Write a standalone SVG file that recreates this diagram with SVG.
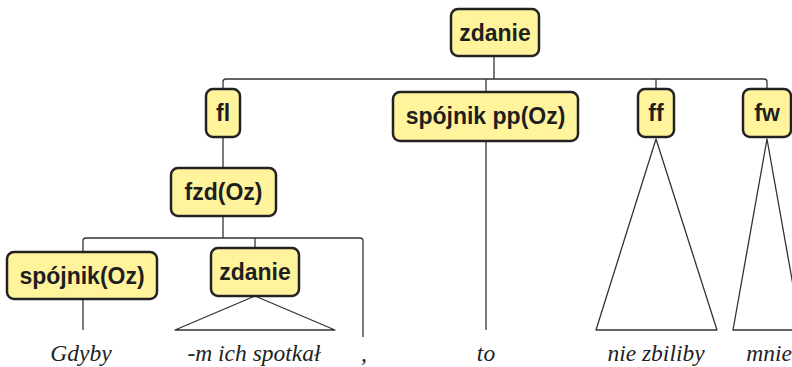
<svg xmlns="http://www.w3.org/2000/svg" width="792" height="367" viewBox="0 0 792 367">
<style>
.box{fill:#fff49c;stroke:#222;stroke-width:2.5}
.lbl{font-family:"Liberation Sans",Arial,sans-serif;font-weight:bold;font-size:23px;fill:#1e1e1e;text-anchor:middle}
.word{font-family:"Liberation Serif","Times New Roman",serif;font-style:italic;font-size:23.5px;fill:#222;text-anchor:middle}
.ln{fill:none;stroke:#333;stroke-width:1.3;stroke-linejoin:round}
</style>
<rect width="792" height="367" fill="#fff"/>
<g id="connectors">
<path class="ln" d="M494,56 V79"/>
<path class="ln" d="M223,89 V82 Q223,79 226,79 H764 Q767,79 767,82 V89"/>
<path class="ln" d="M486,79 V92"/>
<path class="ln" d="M656,79 V89"/>
<path class="ln" d="M223,137 V168"/>
<path class="ln" d="M223,216 V238"/>
<path class="ln" d="M83,252 V241 Q83,238 86,238 H360 Q363,238 363,241 V337"/>
<path class="ln" d="M255,238 V248"/>
<path class="ln" d="M83,299 V330"/>
<path class="ln" d="M486,141 V330"/>
<path class="ln" d="M255,296 L175,330 H335 Z"/>
<path class="ln" d="M656,139 L596,330 H717 Z"/>
<path class="ln" d="M767,139 L733,330 H801 Z"/>
</g>
<g id="n-zdanie-top"><rect class="box" x="451" y="9" width="88" height="47" rx="7"/><text class="lbl" x="495" y="41">zdanie</text></g>
<g id="n-fl"><rect class="box" x="206" y="89" width="34" height="48" rx="7"/><text class="lbl" x="223" y="121">fl</text></g>
<g id="n-spojnik-pp"><rect class="box" x="393" y="92" width="185" height="49" rx="7"/><text class="lbl" x="485.5" y="124">spójnik pp(Oz)</text></g>
<g id="n-ff"><rect class="box" x="638" y="89" width="36" height="48" rx="7"/><text class="lbl" x="656" y="121">ff</text></g>
<g id="n-fw"><rect class="box" x="743" y="89" width="48" height="48" rx="7"/><text class="lbl" x="767" y="121">fw</text></g>
<g id="n-fzd"><rect class="box" x="171" y="168" width="105" height="48" rx="7"/><text class="lbl" x="223.5" y="200">fzd(Oz)</text></g>
<g id="n-spojnik"><rect class="box" x="7" y="252" width="150" height="47" rx="7"/><text class="lbl" x="82" y="284">spójnik(Oz)</text></g>
<g id="n-zdanie-low"><rect class="box" x="211" y="248" width="88" height="48" rx="7"/><text class="lbl" x="255" y="280">zdanie</text></g>
<g id="words">
<text class="word" x="81" y="361">Gdyby</text>
<text class="word" x="254" y="361">-m ich spotkał</text>
<text class="word" x="364" y="361">,</text>
<text class="word" x="486" y="361">to</text>
<text class="word" x="656" y="361">nie zbiliby</text>
<text class="word" x="769" y="361">mnie</text>
</g>
</svg>
